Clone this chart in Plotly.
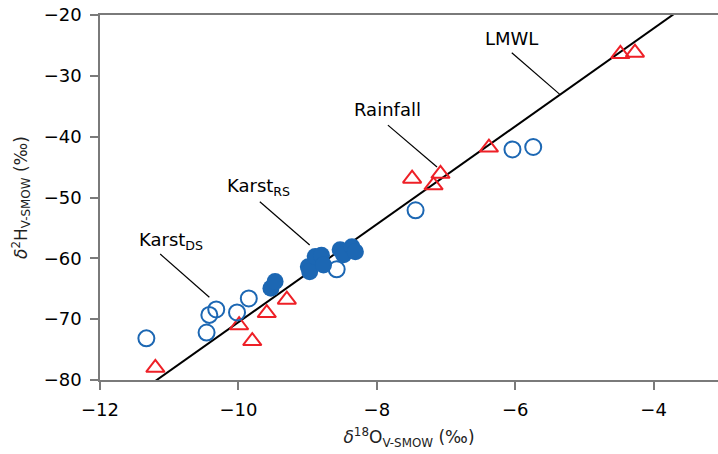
import plotly.graph_objects as go

# Karst drip water (open circles)
karst_ds_x = [-11.33, -10.46, -10.42, -10.32, -10.02, -9.85, -8.58, -7.44, -6.04, -5.74]
karst_ds_y = [-73.15, -72.2, -69.3, -68.4, -68.9, -66.6, -61.8, -52.1, -42.1, -41.7]

# Karst resurgence samples (filled circles)
karst_rs_x = [-9.53, -9.47, -8.99, -8.97, -8.89, -8.80, -8.77, -8.53, -8.48, -8.36, -8.31]
karst_rs_y = [-64.9, -63.8, -61.4, -62.2, -59.7, -59.5, -61.1, -58.6, -59.4, -58.1, -58.9]

# Rainfall samples (open triangles)
rain_x = [-11.20, -9.99, -9.80, -9.59, -9.30, -7.49, -7.18, -7.08, -6.38, -4.48, -4.27]
rain_y = [-78.0, -71.0, -73.6, -69.0, -66.8, -46.9, -48.0, -46.1, -41.8, -26.4, -26.2]

# Local meteoric water line: d2H = slope * d18O + intercept
lmwl_slope = 8.05
lmwl_intercept = 10.0
lmwl_x = [-12.0, -3.0]
lmwl_y = [lmwl_slope * v + lmwl_intercept for v in lmwl_x]

x_ticks = [-12, -10, -8, -6, -4]
y_ticks = [-80, -70, -60, -50, -40, -30, -20]

FONT = "DejaVu Sans, Liberation Sans, Arial, sans-serif"
BLUE = "#1c67b3"
RED = "#ee2027"

fig = go.Figure()

fig.add_trace(go.Scatter(
    x=lmwl_x, y=lmwl_y, mode="lines",
    line=dict(color="black", width=2), hoverinfo="skip", showlegend=False,
))
fig.add_trace(go.Scatter(
    x=rain_x, y=rain_y, mode="markers",
    marker=dict(symbol="triangle-up-open", size=16, color=RED, line=dict(width=2, color=RED)),
    showlegend=False,
))
fig.add_trace(go.Scatter(
    x=karst_ds_x, y=karst_ds_y, mode="markers",
    marker=dict(symbol="circle-open", size=16, color=BLUE, line=dict(width=2, color=BLUE)),
    showlegend=False,
))
fig.add_trace(go.Scatter(
    x=karst_rs_x, y=karst_rs_y, mode="markers",
    marker=dict(symbol="circle", size=17, color=BLUE, line=dict(width=0)),
    showlegend=False,
))

# Labels with leader lines
labels = [
    ("LMWL", -6.47, -23.8, (-6.05, -26.2), (-5.36, -33.0)),
    ("Rainfall", -8.36, -35.6, (-7.84, -38.1), (-7.13, -45.0)),
    ("Karst<sub>RS</sub>", -10.19, -48.3, (-9.69, -50.7), (-8.97, -57.8)),
    ("Karst<sub>DS</sub>", -11.47, -57.2, (-11.13, -59.3), (-10.42, -66.4)),
]
for text, tx, ty, p0, p1 in labels:
    fig.add_annotation(
        x=tx, y=ty, text=text, showarrow=False, xanchor="left", yanchor="middle",
        font=dict(family=FONT, size=18, color="black"),
    )
    fig.add_shape(
        type="line", x0=p0[0], y0=p0[1], x1=p1[0], y1=p1[1],
        line=dict(color="black", width=1.2),
    )

axis_common = dict(
    showgrid=False, zeroline=False,
    showline=True, linecolor="#7a7a7a", linewidth=1.5,
    ticks="outside", ticklen=8, tickwidth=1.5, tickcolor="#7a7a7a",
    ticklabelstandoff=5,
    tickfont=dict(family=FONT, size=18, color="black"),
)

fig.update_layout(
    width=718, height=454,
    margin=dict(l=100, r=0, t=15, b=74),
    plot_bgcolor="white", paper_bgcolor="white",
    xaxis=dict(
        range=[-12, -3.07], tickvals=x_ticks, mirror=True,
        title=dict(text="<i>δ</i><sup>18</sup>O<sub>V-SMOW</sub> (‰)",
                   font=dict(family=FONT, size=17, color="#222"), standoff=12),
        **axis_common,
    ),
    yaxis=dict(
        range=[-80, -20], tickvals=y_ticks,
        title=dict(text="<i>δ</i><sup>2</sup>H<sub>V-SMOW</sub> (‰)",
                   font=dict(family=FONT, size=17, color="#222"), standoff=12),
        **axis_common,
    ),
)

fig.write_html("out.html")
